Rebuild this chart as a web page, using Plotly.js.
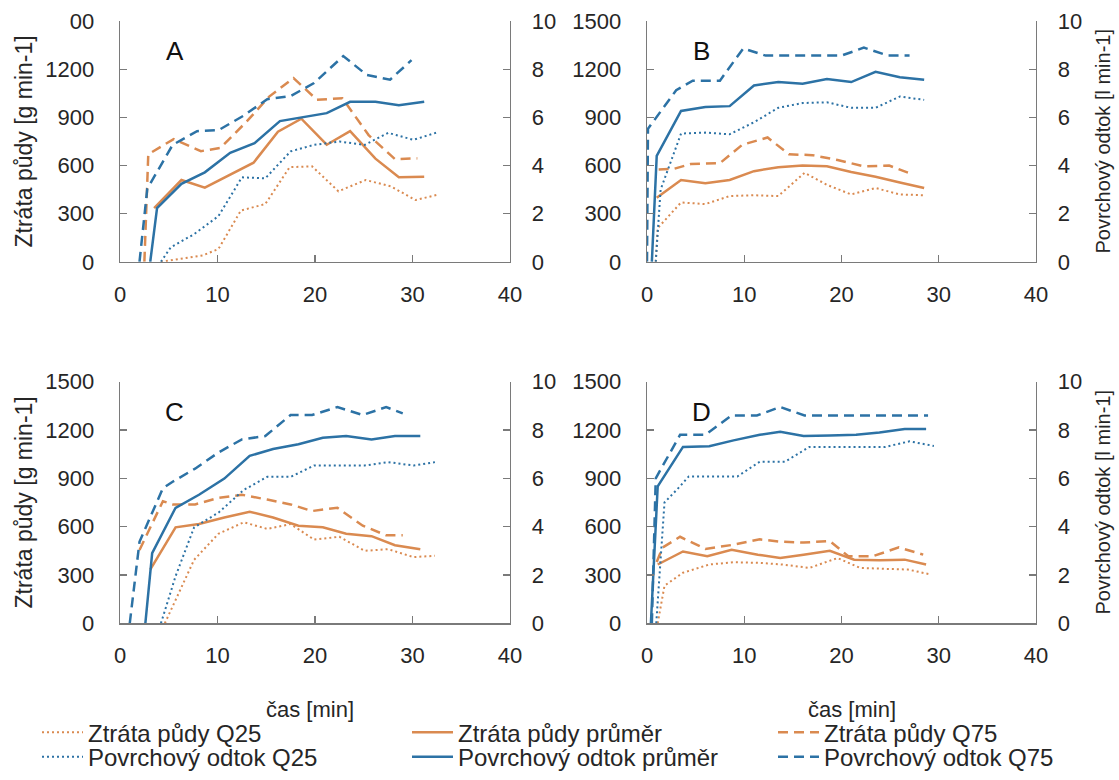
<!DOCTYPE html>
<html><head><meta charset="utf-8">
<script src="https://cdn.plot.ly/plotly-3.0.1.min.js"></script>
<style>html,body{margin:0;padding:0;background:#fff}#chart{width:1119px;height:780px}</style>
</head><body><div id="chart"></div>
<script>
// ---------- DATA ----------
const seriesNames = ["Ztráta půdy Q25","Ztráta půdy průměr","Ztráta půdy Q75","Povrchový odtok Q25","Povrchový odtok průměr","Povrchový odtok Q75"];
const panelLabels = ["A","B","C","D"];
const xTitle = "čas [min]";
const yLeftTitle = "Ztráta půdy [g min-1]";
const yRightTitle = "Povrchový odtok [l min-1]";
const leftTickVals = [0,300,600,900,1200,1500];
const leftTickTextA = ["0","300","600","900","1200","00"];
const leftTickText = ["0","300","600","900","1200","1500"];

// Panel A
const A_soilQ25_t = [4.2, 6.5, 8.5, 10.1, 12.4, 14.9, 17.4, 19.7, 22.4, 25.2, 27.8, 30.3, 32.7];
const A_soilQ25   = [0, 20, 40, 80, 320, 360, 590, 595, 440, 510, 470, 385, 420];
const A_soilMean_t = [3.5, 6.3, 8.7, 11.2, 13.7, 16.2, 18.6, 21.2, 23.6, 26.2, 28.6, 31.2];
const A_soilMean   = [335, 510, 462, 540, 618, 811, 892, 730, 815, 643, 527, 530];
const A_soilQ75_t = [2.5, 2.9, 5.5, 8.3, 10.3, 13.0, 15.3, 17.8, 20.2, 22.8, 25.5, 28.2, 30.5];
const A_soilQ75   = [0, 670, 765, 690, 710, 875, 1030, 1145, 1010, 1020, 790, 640, 645];
const A_runQ25_t = [4.2, 5.2, 7.6, 10.1, 12.5, 14.9, 17.5, 19.9, 22.5, 25.1, 27.5, 30.1, 32.7];
const A_runQ25   = [0, 0.6, 1.15, 1.9, 3.51, 3.47, 4.59, 4.86, 5.0, 4.86, 5.36, 5.07, 5.4];
const A_runMean_t = [3.1, 3.8, 6.3, 8.7, 11.3, 13.8, 16.4, 18.8, 21.2, 23.6, 26.2, 28.6, 31.2];
const A_runMean   = [0, 2.23, 3.24, 3.72, 4.53, 4.93, 5.85, 6.01, 6.18, 6.65, 6.65, 6.51, 6.65];
const A_runQ75_t = [2.0, 2.8, 5.4, 7.9, 10.1, 12.7, 15.1, 17.5, 19.9, 22.9, 25.3, 27.7, 29.9];
const A_runQ75   = [0, 3.04, 4.86, 5.43, 5.47, 6.08, 6.76, 6.89, 7.43, 8.55, 7.77, 7.57, 8.38];

// Panel B
const B_soilQ25_t = [0.9, 1.1, 3.5, 6.0, 8.5, 11.0, 13.5, 16.2, 18.5, 21.0, 23.5, 26.0, 28.5];
const B_soilQ25   = [0, 210, 370, 360, 410, 415, 410, 555, 480, 420, 460, 420, 415];
const B_soilMean_t = [1.0, 3.5, 6.0, 8.5, 11.0, 13.5, 16.0, 18.5, 21.0, 23.5, 26.0, 28.5];
const B_soilMean   = [400, 510, 490, 510, 565, 590, 600, 595, 560, 530, 495, 460];
const B_soilQ75_t = [1.2, 2.8, 4.5, 7.5, 9.8, 12.4, 14.6, 17.0, 19.6, 22.3, 24.9, 27.3];
const B_soilQ75   = [575, 580, 610, 615, 730, 775, 670, 665, 635, 595, 600, 545];
const B_runQ25_t = [0.9, 1.4, 3.5, 6.0, 8.5, 11.0, 13.5, 16.0, 18.5, 21.0, 23.5, 26.0, 28.5];
const B_runQ25   = [0, 3.0, 5.33, 5.37, 5.3, 5.8, 6.4, 6.6, 6.63, 6.4, 6.4, 6.87, 6.73];
const B_runMean_t = [0.5, 1.0, 3.5, 6.0, 8.5, 11.0, 13.5, 16.0, 18.5, 21.0, 23.5, 26.0, 28.5];
const B_runMean   = [0, 4.4, 6.27, 6.43, 6.47, 7.33, 7.47, 7.4, 7.6, 7.47, 7.9, 7.67, 7.57];
const B_runQ75_t = [0.0, 0.1, 3.0, 4.7, 7.5, 9.9, 12.2, 15.0, 17.5, 20.0, 22.3, 24.8, 27.0];
const B_runQ75   = [0, 5.53, 7.13, 7.53, 7.53, 8.87, 8.57, 8.57, 8.57, 8.57, 8.9, 8.57, 8.57];

// Panel C
const C_soilQ25_t = [4.6, 7.6, 10.1, 12.7, 15.1, 17.5, 19.9, 22.5, 25.1, 27.5, 30.1, 32.3];
const C_soilQ25   = [0, 394, 556, 627, 586, 616, 520, 537, 450, 460, 411, 419];
const C_soilMean_t = [3.1, 5.7, 8.1, 10.7, 13.3, 15.7, 18.3, 20.8, 23.2, 25.8, 28.2, 30.8];
const C_soilMean   = [333, 596, 616, 657, 693, 657, 606, 596, 556, 541, 485, 459];
const C_soilQ75_t = [2.0, 4.4, 5.4, 7.7, 10.1, 12.5, 15.1, 17.5, 19.7, 22.3, 24.9, 27.3, 29.0];
const C_soilQ75   = [455, 758, 738, 738, 778, 798, 768, 738, 697, 717, 606, 546, 546];
const C_runQ25_t = [4.2, 5.7, 7.6, 10.1, 12.7, 15.1, 17.5, 19.9, 22.5, 25.1, 27.5, 30.1, 32.3];
const C_runQ25   = [0, 1.95, 3.97, 4.58, 5.52, 6.06, 6.06, 6.53, 6.53, 6.53, 6.67, 6.53, 6.67];
const C_runMean_t = [2.6, 3.3, 5.7, 8.1, 10.7, 13.3, 15.7, 18.3, 20.8, 23.2, 25.8, 28.2, 30.8];
const C_runMean   = [0, 2.9, 4.78, 5.32, 5.99, 6.93, 7.21, 7.41, 7.68, 7.75, 7.61, 7.75, 7.75];
const C_runQ75_t = [1.0, 2.0, 4.4, 5.4, 7.7, 10.1, 12.5, 14.9, 17.5, 19.7, 22.3, 24.9, 27.3, 29.0];
const C_runQ75   = [0, 3.37, 5.59, 5.86, 6.4, 7.07, 7.61, 7.75, 8.62, 8.62, 8.95, 8.62, 8.95, 8.69];

// Panel D
const D_soilQ25_t = [1.1, 1.8, 3.7, 6.4, 8.9, 11.6, 13.9, 16.7, 19.6, 21.9, 24.4, 26.8, 29.1];
const D_soilQ25   = [0, 233, 314, 365, 379, 375, 365, 344, 405, 344, 338, 334, 304];
const D_soilMean_t = [1.1, 3.7, 6.2, 8.7, 11.4, 13.7, 16.1, 18.8, 21.3, 23.9, 26.5, 28.7];
const D_soilMean   = [365, 446, 416, 456, 426, 405, 426, 450, 395, 391, 395, 365];
const D_soilQ75_t = [1.0, 1.6, 3.4, 6.0, 8.7, 11.6, 13.7, 16.1, 18.8, 20.7, 23.2, 25.9, 28.4];
const D_soilQ75   = [380, 470, 537, 462, 486, 521, 507, 501, 511, 416, 416, 471, 426];
const D_runQ25_t = [0.95, 1.8, 3.4, 4.3, 6.6, 9.3, 11.6, 14.2, 16.7, 19.6, 22.3, 24.5, 27.0, 29.5];
const D_runQ25   = [0, 5.0, 5.67, 6.08, 6.08, 6.08, 6.69, 6.69, 7.3, 7.3, 7.3, 7.3, 7.53, 7.34];
const D_runMean_t = [0.4, 1.1, 3.7, 6.4, 8.9, 11.6, 13.7, 16.1, 18.8, 21.5, 23.9, 26.5, 28.7];
const D_runMean   = [0, 5.67, 7.3, 7.33, 7.57, 7.8, 7.93, 7.75, 7.77, 7.8, 7.9, 8.04, 8.04];
const D_runQ75_t = [0.5, 0.9, 3.4, 6.0, 8.7, 11.3, 13.7, 16.2, 18.8, 21.3, 23.9, 26.4, 28.9];
const D_runQ75   = [0, 6.0, 7.8, 7.8, 8.6, 8.6, 8.95, 8.6, 8.6, 8.6, 8.6, 8.6, 8.6];

// ---------- STYLE ----------
const ORANGE = "#DA8A50", BLUE = "#2C72A5";
const FONT = "Liberation Sans, Arial, sans-serif";
const TXT = "#262626", AXC = "#7a7a7a";
const styles = [
  {color: ORANGE, dash: "2px,3px", width: 2},
  {color: ORANGE, dash: "solid", width: 2.5},
  {color: ORANGE, dash: "10px,6px", width: 2.5},
  {color: BLUE, dash: "2px,3px", width: 2},
  {color: BLUE, dash: "solid", width: 2.5},
  {color: BLUE, dash: "10px,6px", width: 2.5}
];

const panels = [
  {t:[A_soilQ25_t,A_soilMean_t,A_soilQ75_t,A_runQ25_t,A_runMean_t,A_runQ75_t], v:[A_soilQ25,A_soilMean,A_soilQ75,A_runQ25,A_runMean,A_runQ75]},
  {t:[B_soilQ25_t,B_soilMean_t,B_soilQ75_t,B_runQ25_t,B_runMean_t,B_runQ75_t], v:[B_soilQ25,B_soilMean,B_soilQ75,B_runQ25,B_runMean,B_runQ75]},
  {t:[C_soilQ25_t,C_soilMean_t,C_soilQ75_t,C_runQ25_t,C_runMean_t,C_runQ75_t], v:[C_soilQ25,C_soilMean,C_soilQ75,C_runQ25,C_runMean,C_runQ75]},
  {t:[D_soilQ25_t,D_soilMean_t,D_soilQ75_t,D_runQ25_t,D_runMean_t,D_runQ75_t], v:[D_soilQ25,D_soilMean,D_soilQ75,D_runQ25,D_runMean,D_runQ75]}
];

const W = 1119, H = 780;
const px = (a,b) => [a/W, b/W];
const py = (top,bottom) => [1-bottom/H, 1-top/H];
const geo = [
  {x: px(120,510), y: py(21.7,268)},
  {x: px(647,1036), y: py(21.7,268)},
  {x: px(120,510), y: py(390.7,638)},
  {x: px(647,1036), y: py(390.7,638)}
];

// legend grid: 3 columns x 2 rows (one single-item legend per cell)
const legendColX = [37, 407, 773];
const legendRowY = [750, 775];

const traces = [];
const layout = {
  width: W, height: H, paper_bgcolor: "#fff", plot_bgcolor: "rgba(0,0,0,0)",
  margin: {l:0, r:0, t:0, b:0},
  font: {family: FONT, color: TXT, size: 22},
  showlegend: true,
  annotations: [], shapes: []
};
for (let s = 0; s < 6; s++) {
  const key = s === 0 ? "legend" : "legend" + (s+1);
  layout[key] = {orientation: "h", xanchor: "left", yanchor: "middle",
    x: legendColX[s % 3]/W, y: 1 - legendRowY[Math.floor(s/3)]/H,
    itemwidth: 41, font: {family: FONT, size: 24, color: TXT},
    bgcolor: "rgba(0,0,0,0)", borderwidth: 0};
}

panels.forEach((p, i) => {
  const xi = i+1, yl = 2*i+1, yr = 2*i+2;
  const xName = xi === 1 ? "x" : "x"+xi;
  const ylName = yl === 1 ? "y" : "y"+yl;
  const yrName = "y"+yr;
  const axCommon = {showgrid:false, zeroline:false, showline:true, linecolor:AXC, linewidth:1.3,
                    ticks:"inside", ticklen:7, tickcolor:AXC, tickwidth:1.3,
                    tickfont:{family:FONT, size:22, color:TXT}, fixedrange:true};
  layout["xaxis"+(xi===1?"":xi)] = Object.assign({}, axCommon, {domain: geo[i].x, anchor: ylName, range:[0,40], dtick:10, tick0:0, ticklabelstandoff: 12});
  layout["yaxis"+(yl===1?"":yl)] = Object.assign({}, axCommon, {domain: geo[i].y, anchor: xName, range:[0,1500],
      tickmode:"array", tickvals: leftTickVals, ticktext: i===0 ? leftTickTextA : leftTickText, ticklabelstandoff: 20});
  layout["yaxis"+yr] = Object.assign({}, axCommon, {domain: geo[i].y, anchor: xName, overlaying: ylName, side:"right", range:[0,10], dtick:2, tick0:0, ticklabelstandoff: 16});
  for (let s = 0; s < 6; s++) {
    traces.push({
      type: "scatter", mode: "lines", x: p.t[s], y: p.v[s],
      xaxis: xName, yaxis: s < 3 ? ylName : yrName,
      name: seriesNames[s], showlegend: i === 0, legend: s === 0 ? "legend" : "legend" + (s+1),
      line: {color: styles[s].color, dash: styles[s].dash, width: styles[s].width},
      hoverinfo: "skip"
    });
  }
  layout.annotations.push({text: panelLabels[i], xref:"paper", yref:"paper",
    x: geo[i].x[0] + 0.14*(geo[i].x[1]-geo[i].x[0]), y: geo[i].y[0] + 0.875*(geo[i].y[1]-geo[i].y[0]),
    xanchor:"center", yanchor:"middle", showarrow:false, font:{family:FONT, size:26, color:"#111"}});
});

// axis titles
[0,2].forEach(i => layout.annotations.push({text: yLeftTitle, xref:"paper", yref:"paper", x: 24/W, y:(geo[i].y[0]+geo[i].y[1])/2,
  textangle:-90, showarrow:false, xanchor:"center", yanchor:"middle", font:{family:FONT, size:23, color:TXT}}));
[1,3].forEach(i => layout.annotations.push({text: yRightTitle, xref:"paper", yref:"paper", x: 1103/W, y:(geo[i].y[0]+geo[i].y[1])/2,
  textangle:-90, showarrow:false, xanchor:"center", yanchor:"middle", font:{family:FONT, size:20, color:TXT}}));
const xTitleX = [310, 852];
[2,3].forEach((i,k) => layout.annotations.push({text: xTitle, xref:"paper", yref:"paper", x: xTitleX[k]/W, y: 1-726/H,
  showarrow:false, xanchor:"center", yanchor:"middle", font:{family:FONT, size:22, color:TXT}}));

Plotly.newPlot("chart", traces, layout, {staticPlot: true});
</script></body></html>
